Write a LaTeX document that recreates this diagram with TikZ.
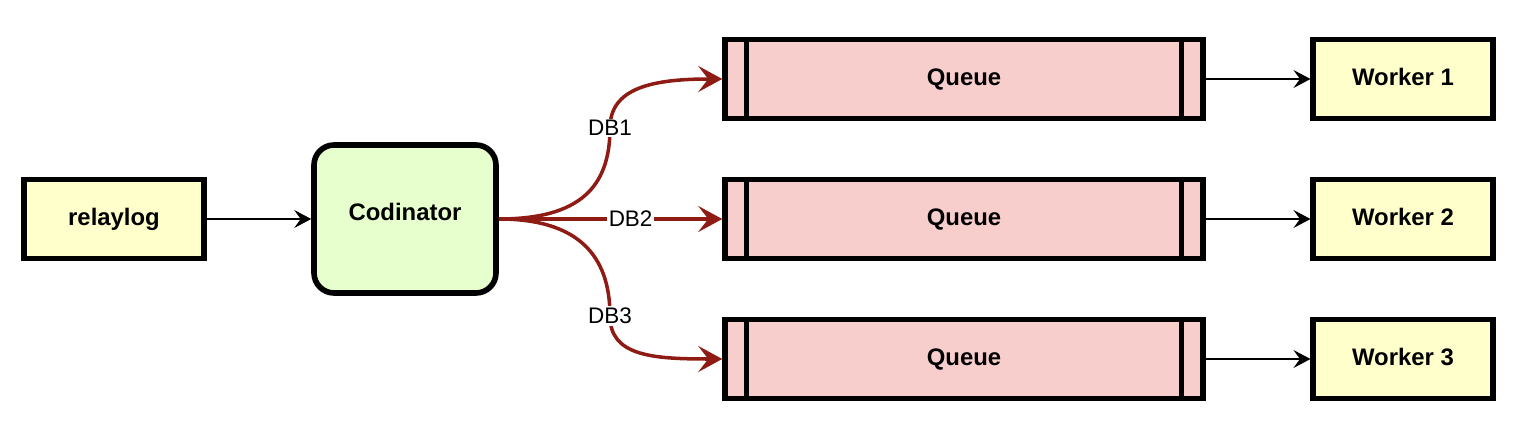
\documentclass[tikz,border=0pt]{standalone}
\usepackage{fontspec}
\setmainfont{Liberation Sans}
\usetikzlibrary{arrows.meta}
\definecolor{SoftYellow}{RGB}{255,255,204}
\definecolor{SoftLime}{RGB}{230,255,204}
\definecolor{SoftPink}{RGB}{248,206,204}
\definecolor{DarkRed}{RGB}{142,27,20}
\tikzset{
  box/.style={draw=black,line width=3.2pt,fill=SoftYellow,align=center,font=\fontsize{13.6}{16}\selectfont\bfseries,minimum width=3.59cm,minimum height=1.58cm,inner sep=0pt,text height=0.716em,text depth=0pt},
  hub/.style={box,fill=SoftLime,rounded corners=0.4cm,minimum width=3.64cm,minimum height=2.96cm,text depth=0.2cm},
  queue/.style={box,fill=SoftPink,minimum width=9.56cm},
  qline/.style={line width=3.2pt},
  link/.style={-{Stealth[length=3.4mm,width=3.6mm,inset=1.3mm]},line width=1pt},
  route/.style={-{Stealth[length=4.8mm,width=5.2mm,inset=2mm]},line width=2pt,draw=DarkRed},
  tag/.style={font=\fontsize{12.8}{15}\selectfont,fill=white,inner sep=1pt}
}
\begin{document}
\begin{tikzpicture}[x=0.02cm,y=-0.02cm]
  \useasboundingbox (0,0) rectangle (1538,442);
  \node[box] (relay) at (114,219) {relaylog};
  \node[hub] (coord) at (405,219) {Codinator};
  \draw[link] (relay) -- (coord);
  \foreach \i/\y in {1/79,2/219,3/359} {
    \node[queue] (q\i) at (964,\y) {Queue};
    \node[box] (w\i) at (1403,\y) {Worker \i};
    \draw[qline] ([xshift=0.486cm]q\i.north west) -- ([xshift=0.486cm]q\i.south west);
    \draw[qline] ([xshift=-0.486cm]q\i.north east) -- ([xshift=-0.486cm]q\i.south east);
    \draw[link] (q\i) -- (w\i);
  }
  \coordinate (bend1) at (610,128);
  \coordinate (bend3) at (610,316);
  \draw[route] (coord.east) .. controls +(80,0) and +(0,60) .. (bend1) node[tag] {DB1}
    .. controls +(0,-40) and +(-70,0) .. (q1.west);
  \draw[route] (coord.east) -- (q2.west) node[tag,pos=0.59] {DB2};
  \draw[route] (coord.east) .. controls +(80,0) and +(0,-60) .. (bend3) node[tag] {DB3}
    .. controls +(0,40) and +(-70,0) .. (q3.west);
\end{tikzpicture}
\end{document}
